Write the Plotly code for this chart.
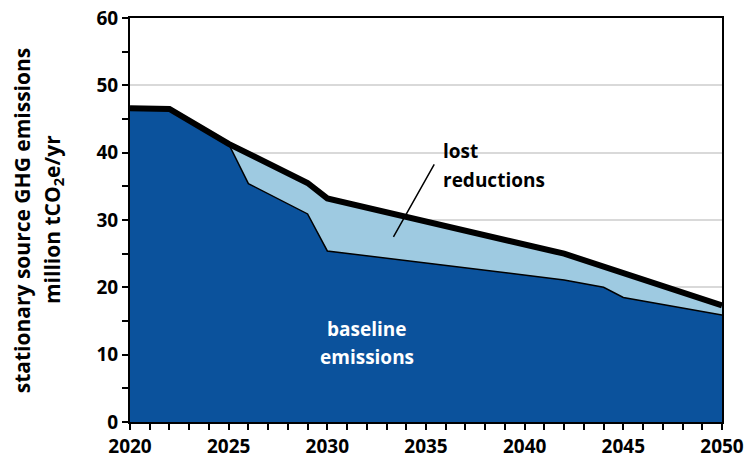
import plotly.graph_objects as go

years = [2020, 2022, 2025, 2026, 2029, 2030, 2042, 2044, 2045, 2050]
baseline = [46.6, 46.5, 41.3, 35.4, 30.9, 25.4, 21.1, 20.0, 18.5, 15.9]
total_years = [2020, 2022, 2025, 2029, 2030, 2042, 2050]
total = [46.6, 46.5, 41.3, 35.5, 33.2, 25.0, 17.3]
title_lines = ["stationary source GHG emissions", "million tCO<sub>2</sub>e/yr"]

DARK = "#0B529C"
LIGHT = "#9ECAE1"
FONT = "Open Sans"

fig = go.Figure()
fig.add_trace(go.Scatter(x=total_years, y=total, mode="lines", fill="tozeroy",
                         fillcolor=LIGHT, line=dict(width=0, color=LIGHT),
                         hoverinfo="skip", showlegend=False))
fig.add_trace(go.Scatter(x=years, y=baseline, mode="lines", fill="tozeroy",
                         fillcolor=DARK, line=dict(width=1.5, color="black"),
                         showlegend=False))
fig.add_trace(go.Scatter(x=total_years, y=total, mode="lines",
                         line=dict(width=6, color="black"), showlegend=False))

fig.add_annotation(x=2033.35, y=27.5, ax=2035.46, ay=38.5, axref="x", ayref="y",
                   xref="x", yref="y", text="", showarrow=True, arrowhead=0,
                   arrowwidth=1.5, arrowcolor="black")
afont = dict(family=FONT, size=19, color="black", weight="bold")
fig.add_annotation(x=2035.75, y=40.3, xref="x", yref="y", text="lost",
                   showarrow=False, xanchor="left", yanchor="middle", font=afont)
fig.add_annotation(x=2035.75, y=35.9, xref="x", yref="y", text="reductions",
                   showarrow=False, xanchor="left", yanchor="middle", font=afont)
wfont = dict(family=FONT, size=19, color="white", weight="bold")
fig.add_annotation(x=2032.0, y=13.8, xref="x", yref="y", text="baseline",
                   showarrow=False, xanchor="center", yanchor="middle", font=wfont)
fig.add_annotation(x=2032.0, y=9.7, xref="x", yref="y", text="emissions",
                   showarrow=False, xanchor="center", yanchor="middle", font=wfont)

tfont = dict(family=FONT, size=21, color="black", weight="bold")
fig.add_annotation(x=-0.182, y=0.5, xref="paper", yref="paper", text=title_lines[0],
                   textangle=-90, showarrow=False, xanchor="center", yanchor="middle", font=tfont)
fig.add_annotation(x=-0.13, y=0.5, xref="paper", yref="paper", text=title_lines[1],
                   textangle=-90, showarrow=False, xanchor="center", yanchor="middle", font=tfont)

fig.update_layout(
    width=746, height=463,
    margin=dict(l=130, r=24, t=18, b=41),
    paper_bgcolor="white", plot_bgcolor="white",
    font=dict(family=FONT, color="black"),
    xaxis=dict(range=[2020, 2050], dtick=5, tick0=2020, showgrid=False, automargin=False,
               showline=True, linecolor="black", linewidth=2, mirror=True,
               ticks="outside", ticklen=6, tickwidth=1.5, tickcolor="black",
               minor=dict(dtick=1, ticks="outside", ticklen=6, tickwidth=1.5, tickcolor="black"),
               tickfont=dict(family=FONT, size=19, color="black", weight="bold"),
               zeroline=False),
    yaxis=dict(range=[0, 60], dtick=10, showgrid=True, gridcolor="#D9D9D9", gridwidth=1.5,
               automargin=False,
               showline=True, linecolor="black", linewidth=2, mirror=True,
               ticks="outside", ticklen=6, tickwidth=1.5, tickcolor="black",
               minor=dict(dtick=5, ticks="outside", ticklen=6, tickwidth=1.5, tickcolor="black", showgrid=False),
               tickfont=dict(family=FONT, size=19, color="black", weight="bold"),
               zeroline=False),
)

fig.write_html("out.html")
